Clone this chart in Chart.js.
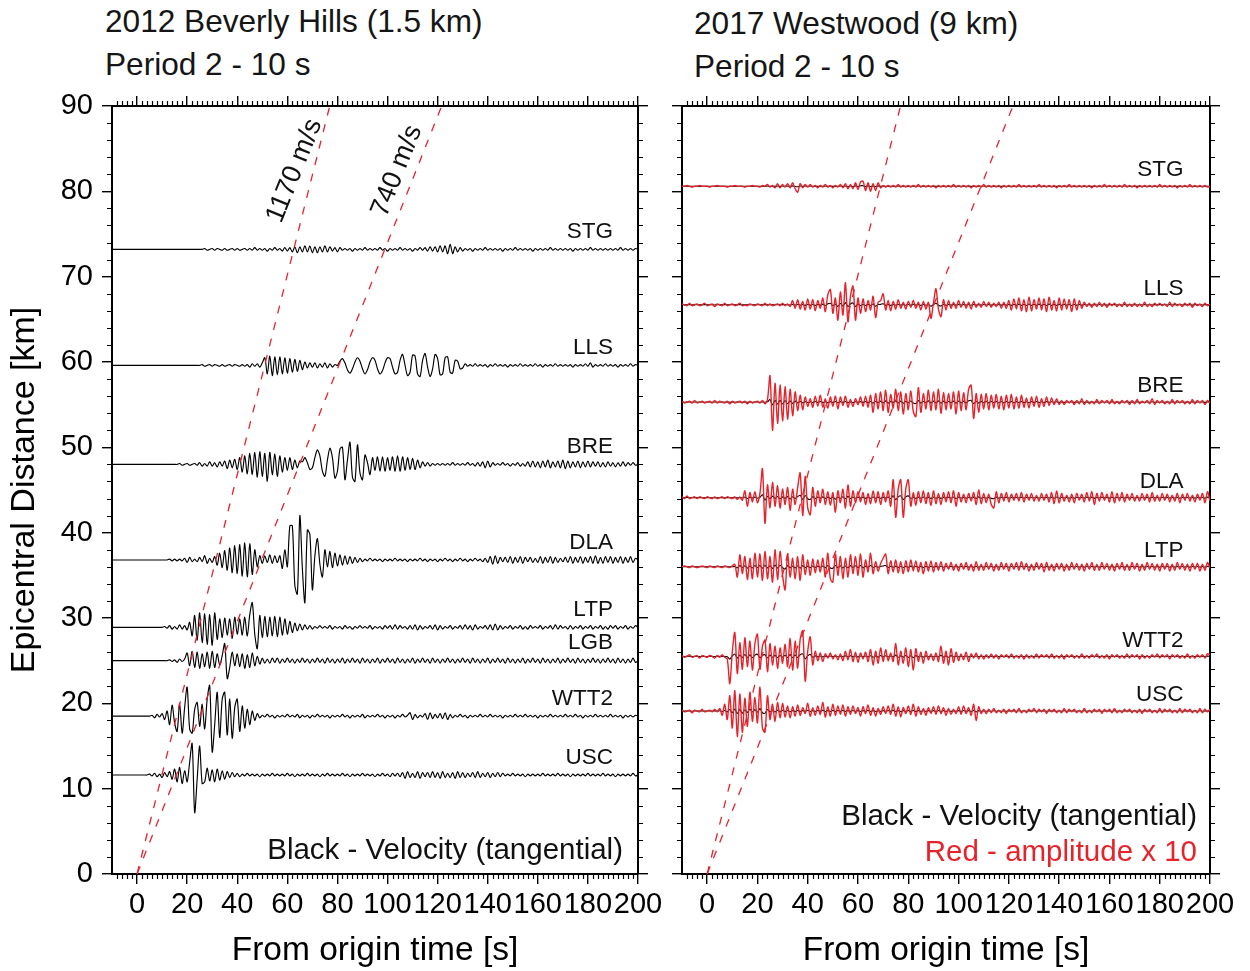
<!DOCTYPE html>
<html><head><meta charset="utf-8">
<script src="https://cdn.jsdelivr.net/npm/chart.js@4.4.1/dist/chart.umd.min.js"></script>
<style>
html,body{margin:0;padding:0;background:#fff;}
body{width:1250px;height:971px;position:relative;overflow:hidden;font-family:"Liberation Sans",Arial,sans-serif;}
canvas{position:absolute;top:0;}
#cL{left:0;}
#cR{left:660px;}
.ttl{position:absolute;font-size:31.6px;line-height:43px;color:#151515;white-space:nowrap;}
</style></head><body>
<div class="ttl" style="left:105px;top:0px">2012 Beverly Hills (1.5 km)<br>Period 2 - 10 s</div>
<div class="ttl" style="left:694px;top:2px">2017 Westwood (9 km)<br>Period 2 - 10 s</div>
<canvas id="cL" width="670" height="971"></canvas>
<canvas id="cR" width="590" height="971"></canvas>
<script>
const FONT = '"Liberation Sans", Arial, sans-serif';
// sampling of every trace: one value per second from -10 s
const timeStart = -10, timeStep = 1;
const timeTicks = [0,20,40,60,80,100,120,140,160,180,200];
const distTicks = [0,10,20,30,40,50,60,70,80,90];
const velocities = [1.17, 0.74];           // km/s
const velocityLabels = ['1170 m/s', '740 m/s'];
const ampUnitKm = 0.1;   // one data unit = 0.1 km of offset on the distance axis
const redFactor = 10;    // red = amplitude x 10

// ---------- 2012 Beverly Hills ----------
const leftStations  = ['STG','LLS','BRE','DLA','LTP','LGB','WTT2','USC'];
const leftDistances = [73.2, 59.6, 48.0, 36.8, 28.9, 25.0, 18.5, 11.6];
const L_STG = [0,0,0,0,0,0,0,0,0,0, 0,0,0,0,0,0,0,0,0,0, 0,0,0,0,0,0,0,0,0,0, 0,0,0,0,0,0,0,1,-1,0,
1,-1,1,0,-1,1,-1,0,1,-1, 1,-1,0,1,-1,1,-1,2,-1,1, -1,1,-2,1,-1,2,-1,1,-2,2, -2,2,-3,3,-4,3,-3,4,-3,4,
-4,3,-4,3,-3,4,-3,3,-2,2, -3,2,-1,1,-1,1,-2,1,-1,1, -1,2,-1,1,-1,1,-1,2,-1,1, -2,1,-1,1,-1,2,-1,1,-1,1,
-2,1,-1,2,-1,2,-2,3,-2,3, -3,4,-3,4,-5,6,-5,3,-3,2, -2,1,-1,1,-2,1,-1,1,-1,2, -1,1,-1,1,-1,1,-2,1,-1,1,
-1,2,-1,1,-1,1,-1,1,-2,1, -1,1,-1,1,-1,2,-1,1,-1,1, -1,1,-1,1,-2,1,-1,1,-1,1, -1,2,-1,1,-1,1,-1,1,-1,1,
-1,1,-1,2,-1,1,-1,1,-1,1,0];
const L_LLS = [0,0,0,0,0,0,0,0,0,0, 0,0,0,0,0,0,0,0,0,0, 0,0,0,0,0,0,0,0,0,0, 0,0,0,0,0,0,1,-1,0,1,
-1,1,0,-1,1,-1,0,1,-1,1, 0,-1,1,-1,1,-2,2,-1,2,-2, 3,9,-10,11,-12,10,-11,10,-10,9, -9,8,-8,7,-7,6,-5,4,-3,3,
-2,3,-3,2,-2,3,-3,2,-2,1, 0,5,8,3,-5,-9,-4,4,9,5, -4,-10,-5,4,9,6,-4,-10,-6,3, 9,8,-2,-10,-8,6,13,0,-12,-8,
12,11,-10,-13,6,14,-2,-13,-4,13, 8,-11,-10,9,10,-8,-9,6,5,-4, -3,2,-1,1,-1,2,-1,1,-1,1, -2,1,-1,2,-1,1,-1,1,-2,1,
-1,1,-1,2,-1,1,-1,1,-1,2, -1,1,-2,1,-1,1,-1,2,-1,1, -1,1,-1,1,-2,1,-1,1,-1,2, -1,3,-2,1,-1,1,-1,2,-1,1,
-1,1,-2,1,-1,1,-1,2,-1,1,0];
const L_BRE = [0,0,0,0,0,0,0,0,0,0, 0,0,0,0,0,0,0,0,0,0, 0,0,0,0,0,0,0,1,-1,0, 1,-1,0,1,-1,2,-2,1,-2,3,
-2,2,-3,3,-2,4,-5,5,-4,6, -6,8,-9,10,-11,13,-12,14,-15,15, -14,13,-20,14,-12,12,-14,10,-9,8, -7,8,-6,5,-4,4,3,8,2,-6,
-4,8,17,10,-8,-14,5,19,8,-16, -8,18,20,-18,5,26,-15,-20,23,-10, -18,11,2,-12,8,-7,9,-8,9,-8, 8,-7,9,-8,10,-8,9,-7,8,-6,
7,-6,5,-4,3,-2,2,-2,1,-1, 1,-1,1,-1,1,-1,2,-1,1,-1, 1,-1,2,-1,1,-2,2,-2,3,-4, 4,-3,2,-1,1,-1,2,-1,1,-2,
1,-1,2,-2,1,-2,3,-3,4,-3, 3,-4,4,-3,5,-4,3,-3,4,-4, 5,-5,4,-4,3,-3,4,-4,3,-3, 4,-3,3,-2,3,-3,2,-3,3,-2,
2,-3,2,-2,3,-2,2,-1,2,-1,0];
const L_DLA = [0,0,0,0,0,0,0,0,0,0, 0,0,0,0,0,0,0,0,0,0, 0,0,0,1,-1,1,-1,1,-1,2, -3,3,-2,1,-2,3,-2,5,-4,2,
-3,4,-6,8,-9,11,-12,14,-15,17, -16,18,-19,20,-20,19,-17,12,-8,5, -4,5,-3,6,-4,5,-3,5,-10,12, -8,40,40,-30,-40,52,-10,-50,35,30,
-35,5,25,-5,-20,12,-8,10,-9,8, -7,6,-6,5,-5,4,-4,3,-3,2, -2,1,-1,2,-1,1,-1,1,-2,1, -1,1,-1,2,-1,1,-1,1,-2,1,
-1,1,-1,2,-1,1,-2,1,-1,1, -2,1,-1,2,-1,1,-2,1,-1,2, -1,1,-2,1,-1,2,-1,1,-2,2, -3,4,-5,5,-4,3,-2,3,-3,4,
-4,3,-3,4,-4,3,-2,3,-3,2, -3,4,-4,3,-3,4,-4,3,-3,2, -2,3,-3,4,-4,3,-3,4,-4,3, -3,4,-4,5,-4,3,-4,4,-3,4,
-4,3,-3,4,-4,3,-3,4,-3,2,0];
const L_LTP = [0,0,0,0,0,0,0,0,0,0, 0,0,0,0,0,0,0,0,0,0, 0,1,-1,2,-2,1,-2,3,-2,2, -3,6,-10,14,-15,17,-18,16,-20,15,
-21,17,-14,10,-12,11,-9,10,-13,12, -8,10,-9,12,-10,15,29,-8,-25,14, -12,13,-11,12,-10,13,-11,12,-9,10, -8,7,-6,5,-4,4,-3,3,-2,2,
-2,1,-1,2,-1,1,-1,2,-2,1, -1,1,-2,2,-1,1,-2,1,-1,2, -1,1,-1,2,-2,1,-1,1,-2,2, -1,2,-2,3,-2,2,-1,1,-2,2,
-2,3,-3,2,-2,1,-1,2,-2,3, -3,2,-2,1,-1,2,-2,1,-1,2, -2,3,-2,2,-3,3,-2,1,-1,2, -2,3,-3,4,-3,2,-2,1,-1,2,
-2,1,-1,2,-2,1,-2,2,-1,1, -1,2,-2,1,-1,2,-2,3,-2,2, -1,1,-2,2,-2,1,-1,2,-2,1, -1,2,-2,1,-1,2,-2,1,-2,2,
-1,2,-2,1,-1,2,-2,1,-1,2,0];
const L_LGB = [0,0,0,0,0,0,0,0,0,0, 0,0,0,0,0,0,0,0,0,0, 0,0,0,1,-1,1,-2,2,-1,2, 9,-6,11,-8,10,-9,8,-7,10,-9,
11,-8,8,-5,6,20,-21,-8,10,-6, 8,-7,8,-9,7,-8,9,-6,5,-4, 3,-3,2,-3,3,-2,3,-3,2,-2, 3,-2,2,-3,2,-2,3,-2,2,-3,
2,-2,3,-2,2,-3,3,-2,2,-3, 2,-2,3,-3,2,-2,3,-2,2,-3, 3,-2,2,-3,2,-2,3,-3,2,-2, 3,-2,2,-3,3,-2,2,-3,2,-2,
3,-3,2,-2,3,-2,2,-3,3,-2, 2,-3,2,-2,3,-2,2,-3,2,-2, 3,-2,2,-3,3,-2,2,-3,2,-2, 3,-3,2,-2,3,-2,2,-3,3,-2,
2,-3,2,-2,3,-3,2,-2,3,-2, 2,-3,3,-2,2,-3,2,-2,3,-3, 2,-2,3,-2,2,-3,3,-2,2,-3, 2,-2,3,-2,2,-3,2,-2,3,-2,
2,-3,3,-2,2,-3,2,-2,3,-2,0];
const L_WTT2 = [0,0,0,0,0,0,0,0,0,0, 0,0,0,0,0,0,1,-2,2,-1, 3,-4,6,-10,13,-8,-18,15,-20,10, 34,-15,-20,8,16,-12,14,-15,20,36,
-42,-10,28,-25,20,28,-22,20,-26,10, 20,-18,12,-14,8,-10,6,-5,3,-2, 1,-1,2,-1,1,-2,1,-1,1,-1, 2,-1,1,-1,2,-2,1,-1,1,-2,
1,-1,2,-1,1,-1,1,-2,1,-1, 1,-1,2,-1,1,-2,1,-1,1,-1, 2,-2,1,-1,1,-1,2,-1,1,-2, 1,-1,1,-2,1,-1,2,-1,1,4,
-4,2,-2,1,-1,3,-4,4,-3,2, -2,3,-3,4,-4,2,-2,1,-1,2, -1,1,-2,1,-1,1,-1,2,-1,1, -1,2,-1,1,-1,1,-2,1,-1,1,
-1,2,-1,1,-1,2,-1,1,-1,1, -2,1,-1,1,-1,2,-1,1,-1,1, -1,2,-1,1,-1,2,-1,1,-2,1, -1,1,-1,2,-1,1,-1,1,-1,2,
-1,1,-1,1,-2,1,-1,1,-1,1,0];
const L_USC = [0,0,0,0,0,0,0,0,0,0, 0,0,0,0,0,1,-1,2,-2,1, -3,3,-2,4,-5,7,-8,9,-10,5, -8,15,37,-44,-5,34,-10,-8,8,-7,
6,-8,7,-6,5,-5,4,-3,3,-2, 2,-2,1,-1,2,-1,1,-1,1,-2, 1,-1,1,-1,2,-1,1,-1,1,-1, 2,-1,1,-2,1,-1,1,-1,2,-1,
1,-1,1,-2,1,-1,2,-1,1,-1, 1,-1,2,-1,1,-2,1,-1,1,-1, 2,-1,1,-1,1,-2,1,-1,2,-1, 1,-2,2,-1,2,-2,3,-4,4,-3,
2,-3,4,-4,3,-2,3,-3,4,-3, 3,-4,4,-3,2,-3,3,-4,4,-3, 3,-3,2,-2,3,-3,4,-3,2,-2, 3,-3,2,-2,3,-2,2,-1,1,-1,
2,-1,1,-1,1,-2,1,-1,1,-1, 1,-1,2,-1,1,-1,1,-1,2,-1, 1,-1,1,-2,1,-1,1,-1,1,-1, 2,-1,1,-1,1,-1,2,-1,1,-1,
1,-2,1,-1,1,-1,1,-1,2,-1,0];
const leftTraces = [L_STG, L_LLS, L_BRE, L_DLA, L_LTP, L_LGB, L_WTT2, L_USC];

// ---------- 2017 Westwood (values in red-trace units; black = value / 10) ----------
const rightStations  = ['STG','LLS','BRE','DLA','LTP','WTT2','USC'];
const rightDistances = [80.6, 66.7, 55.3, 44.1, 36.0, 25.5, 19.1];
const R_STG = [0,0,1,0,-1,0,0,1,0,0, 0,-1,0,0,1,0,0,0,-1,0, 0,1,0,0,0,-1,0,0,1,0, 0,-1,1,0,2,-1,1,-2,3,-2,
2,-1,3,-2,4,-3,-7,3,-2,2, -1,2,-1,1,-2,1,-1,2,-1,1, -2,1,-1,2,-2,3,-3,2,-3,4, -4,5,6,-5,4,-6,3,-5,4,-2,
1,-1,1,-1,1,-1,2,-1,1,-1, 1,-1,1,-1,2,-1,1,-1,1,-1, 1,-2,1,-1,1,-1,1,-1,2,-1, 1,-1,1,-1,1,-2,1,-1,1,-1,
2,-1,1,-1,1,-1,1,-2,1,-1, 1,-1,1,-1,2,-1,1,-1,1,-1, 1,-1,2,-1,1,-1,1,-1,1,-2, 1,-1,1,-1,2,-1,1,-1,1,-1,
1,-1,1,-2,1,-1,1,-1,2,-1, 1,-1,1,-1,1,-1,2,-1,1,-1, 1,-2,1,-1,1,-1,1,-1,1,-1, 2,-1,1,-1,1,-1,1,-2,1,-1,
1,-1,2,-1,1,-1,1,-1,1,-1,0];
const R_LLS = [1,0,-1,2,-1,0,1,-1,0,2, -1,0,1,-2,1,0,-1,2,-1,0, 1,-1,0,2,-1,0,-1,1,0,-1, 1,0,-1,2,-1,1,-1,0,1,-1,
2,-1,1,-2,5,-4,6,-5,4,-6, 7,-5,6,-7,5,-4,8,-8,12,18, -10,8,-18,15,-12,26,-20,10,22,-18, 8,-10,7,-8,5,-6,10,-15,3,5,
13,-6,5,-7,4,-5,6,-4,3,-5, 4,-3,5,-4,3,-6,4,-5,3,-16, 2,19,-5,-14,6,-6,5,-4,3,-4, 5,-3,4,-4,3,-5,4,-3,2,-3,
4,-2,3,-3,2,-2,3,-4,3,-4, 5,-6,7,-5,8,-7,6,-8,9,-7, 6,-5,8,-6,7,-8,9,-6,5,-7, 8,-6,7,-5,6,-8,7,-6,5,-4,
3,-2,2,-3,2,-2,3,-2,2,-3, 2,-1,2,-2,1,-2,3,-2,1,-2, 2,-2,1,-2,3,-2,1,-2,2,-1, 2,-1,1,-2,3,-2,2,-1,1,-2,
2,-1,2,-3,2,-1,1,-2,2,-1,1];
const R_BRE = [1,-1,0,1,-1,2,-1,0,1,-1, 0,1,-1,2,-1,1,0,-1,1,-2, 1,-1,0,1,-1,1,-2,1,-1,0, 1,-1,2,-2,3,31,-33,22,-25,20,
-22,18,-20,15,-16,12,-10,8,-9,6, -5,4,-6,7,-5,8,-6,4,-7,6, -5,7,-8,6,-4,7,-6,3,-5,4, -3,6,-5,7,-6,8,-12,10,-8,12,
-10,14,-12,9,-7,15,-10,12,-14,10, -9,13,-11,-17,17,-12,10,-8,14,-10, 12,-9,15,-13,11,-9,10,-8,12,-14, 13,-10,11,-9,15,20,-19,10,-12,9,
-8,10,-9,8,-7,9,-8,7,-9,8, -7,9,-8,6,-7,8,-6,5,-7,6, -5,7,-6,4,-5,6,-4,5,-3,4, -3,2,-3,2,-1,2,-3,2,-2,4,
-3,2,-2,1,-2,3,-2,2,-1,2, -2,3,-2,1,-2,2,-1,2,-3,2, -2,3,-2,1,-1,2,-2,4,-3,2, -1,2,-2,1,-2,3,-2,2,-1,2,
-2,1,-2,3,-2,2,-1,2,-3,2,-1];
const R_DLA = [1,-1,2,-1,0,1,-1,1,0,-1, 1,0,-1,1,-1,0,1,-1,1,0, -1,1,-2,1,-3,8,-10,6,-5,7, -6,5,34,-30,15,-12,18,-10,14,-12,
10,-8,12,-15,10,-8,12,29,-21,25, -12,-20,12,-10,8,-6,10,-8,7,-9, 6,-17,8,-6,10,-12,15,-10,8,-6, 7,-5,6,-8,5,-7,8,-6,7,-8,
6,-5,8,-10,21,-23,10,21,-23,10, 21,-10,6,-9,7,-6,8,-7,6,-9, 8,-7,5,-8,6,-5,7,-6,8,-10, 6,-5,4,-6,5,-4,6,-8,9,-7,
5,-6,4,-8,-12,7,-6,5,-4,6, -5,4,-3,5,-4,6,-5,4,-3,5, -4,3,-4,5,-3,4,-5,6,-7,8, -6,5,-4,3,-5,4,-6,5,-3,4,
-5,6,-4,7,-8,5,-4,6,-3,4, -5,7,-6,5,-4,6,-5,4,-3,5, -4,3,-4,5,-3,4,-5,6,-4,3, -4,5,-3,4,-5,3,-4,5,-6,4,
-3,5,-4,3,-5,4,-3,5,-6,7,-4];
const R_LTP = [0,1,0,-1,1,0,-1,0,1,0, -1,1,0,-1,1,0,-1,1,0,-1, 1,3,-12,14,-8,12,-15,10,-14,16, -12,15,-16,18,-14,12,-18,20,-15,18,
-10,-27,15,-12,10,-14,12,-16,14,-9, 8,-10,9,-7,8,-6,10,-12,16,-14, -18,15,-10,12,-14,10,-12,14,-8,12, -10,15,-12,8,-6,16,-8,6,-5,4,
10,15,-8,7,-6,8,-7,6,-8,7, -6,8,-5,7,-6,5,-8,6,-5,7, -6,5,-4,6,-5,4,-3,5,-4,3, -5,4,-3,5,-4,3,-5,6,-4,3,
-4,5,-3,4,-5,3,-4,5,-3,4, -5,4,-3,5,-4,6,-3,4,-5,3, -4,5,-3,4,-6,5,-4,3,-5,4, -3,4,-5,3,-4,5,-3,4,-4,3,
-5,4,-3,5,-4,3,-4,5,-3,4, -4,3,-5,4,-3,5,-4,3,-4,5, -3,4,-5,3,-4,5,-3,4,-4,3, -5,4,-3,4,-5,3,-4,5,-3,4,
-4,3,-5,4,-3,4,-5,3,-4,5,-2];
const R_WTT2 = [1,-1,0,2,-1,0,1,-2,1,0, -1,1,0,-2,1,-1,2,-1,-3,-32, 5,28,-20,16,-15,22,-12,18,-16,15, 26,-15,12,19,-18,15,-10,12,-14,10,
-8,14,-12,21,-16,18,-14,20,30,-29, 6,23,-10,6,-5,4,-6,3,-2,4, -3,2,-4,3,-5,6,-4,8,-6,5, -7,4,-3,5,-6,8,-10,6,-8,10,
-6,8,-5,4,-6,15,-10,6,-8,10, -12,8,-16,9,-6,5,-8,6,-4,3, -5,4,-6,12,-8,6,-10,9,-7,5, -5,3,-4,5,-6,3,-2,4,-3,2,
-3,2,-2,3,-2,2,-3,2,-1,2, -2,3,-2,1,-2,2,-3,2,-2,1, -2,3,-2,2,-1,2,-2,3,-2,1, -2,2,-3,2,-1,2,-2,1,-2,3,
-2,1,-2,2,-1,3,-2,1,-2,2, -3,2,-1,2,-2,1,-2,3,-2,2, -1,2,-3,2,-2,1,-2,2,-1,3, -2,2,-1,2,-3,2,-1,2,-2,1,
-2,3,-2,1,-2,2,-1,2,-2,3,2];
const R_USC = [1,-1,0,1,-2,1,0,-1,2,-1, 0,1,-1,2,-1,3,-5,8,-10,18, -20,24,-30,20,-25,15,-18,22,-12,16, -14,28,-20,-25,18,-10,8,-12,10,-8,
9,-7,6,-8,5,-6,7,-5,4,-3, 9,-6,4,-5,6,-4,10,-7,5,-6, 8,-5,6,-4,7,-6,5,-4,6,-3, 4,-6,5,-3,7,-5,4,-6,3,-4,
5,-3,6,-4,8,-6,5,-7,4,-3, 6,-4,8,-6,5,-4,3,-5,4,-3, 5,-4,6,-3,4,-5,3,-4,2,-3, 5,-4,6,-3,4,-5,8,-11,5,-3,
2,-3,2,-2,3,-2,1,-2,2,-3, 2,-1,2,-2,3,-2,1,-2,2,-1, 3,-2,2,-1,2,-3,2,-1,2,-2, 1,-2,3,-2,2,-1,2,-2,1,-2,
3,-2,1,-2,2,-1,2,-3,2,-1, 2,-2,3,-2,1,-2,2,-1,2,-2, 1,-2,2,-3,2,-1,2,-2,1,-2, 3,-2,2,-1,2,-2,1,-2,3,-2,
2,-1,2,-2,1,-2,3,-2,2,-1,2];
const rightTraces = [R_STG, R_LLS, R_BRE, R_DLA, R_LTP, R_WTT2, R_USC];

const RED = '#e5232b';

function traceData(arr, dist, unitKm) {
  return arr.map((v, i) => ({x: timeStart + i * timeStep, y: dist + v * unitKm}));
}
function velocityLine(v) {
  const dMax = distTicks[distTicks.length - 1];
  return [{x: 0, y: 0}, {x: dMax / v, y: dMax}];
}
function setTicks(list) { return s => { s.ticks = list.map(v => ({value: v})); }; }

function makeScales(showY, yW, y2W) {
  const grid = {drawOnChartArea: false, drawTicks: true, tickLength: 10, color: '#000', tickColor: '#000', tickWidth: 1.4, lineWidth: 1.4};
  const border = {display: true, color: '#000', width: 2};
  const tickFont = {family: FONT, size: 29};
  return {
    x: {type: 'linear', position: 'bottom', min: -10, max: 200, grid, border,
        afterBuildTicks: setTicks(timeTicks),
        ticks: {font: tickFont, color: '#000', padding: 4, maxRotation: 0, autoSkip: false},
        title: {display: true, text: 'From origin time [s]', color: '#000', font: {family: FONT, size: 33.5, lineHeight: 1.2}, padding: {top: 0, bottom: 0}},
        afterFit: s => { s.height = 97; }},
    x2: {type: 'linear', position: 'top', min: -10, max: 200, grid, border,
        afterBuildTicks: setTicks(timeTicks), ticks: {display: false},
        afterFit: s => { s.height = 10; }},
    y: {type: 'linear', position: 'left', min: 0, max: 90, grid, border,
        afterBuildTicks: setTicks(distTicks),
        ticks: {display: showY, font: tickFont, color: '#000', padding: 9},
        title: {display: showY, text: 'Epicentral Distance [km]', color: '#000', font: {family: FONT, size: 34, lineHeight: 1.2}, padding: {top: 4, bottom: 0}},
        afterFit: s => { s.width = yW; }},
    y2: {type: 'linear', position: 'right', min: 0, max: 90, grid, border,
        afterBuildTicks: setTicks(distTicks), ticks: {display: false},
        afterFit: s => { s.width = y2W; }}
  };
}

const decor = {
  id: 'decor',
  afterDraw(chart, args, o) {
    const {ctx, chartArea: a, scales: {x, y}} = chart;
    ctx.save();
    // minor ticks
    ctx.strokeStyle = '#000'; ctx.lineWidth = 1.2; ctx.beginPath();
    for (let t = -8; t < 200; t += 2) {
      if (t % 20 === 0) continue;
      const px = Math.round(x.getPixelForValue(t)) + 0.5;
      ctx.moveTo(px, a.bottom); ctx.lineTo(px, a.bottom + 5);
      ctx.moveTo(px, a.top); ctx.lineTo(px, a.top - 5);
    }
    for (let d = 2; d < 90; d += 2) {
      if (d % 10 === 0) continue;
      const py = Math.round(y.getPixelForValue(d)) + 0.5;
      ctx.moveTo(a.left, py); ctx.lineTo(a.left - 5, py);
      ctx.moveTo(a.right, py); ctx.lineTo(a.right + 5, py);
    }
    ctx.stroke();
    // station labels
    ctx.fillStyle = '#111'; ctx.font = '22.5px ' + FONT; ctx.textAlign = 'right'; ctx.textBaseline = 'middle';
    o.stations.forEach((s, i) => ctx.fillText(s, x.getPixelForValue(o.labelT), y.getPixelForValue(o.distances[i]) - o.labelDy));
    // velocity labels
    if (o.velLabels) {
      ctx.font = '27px ' + FONT; ctx.textAlign = 'center'; ctx.textBaseline = 'middle';
      velocities.forEach((v, i) => {
        const d = 82.4;
        const px = x.getPixelForValue(d / v) - 19, py = y.getPixelForValue(d);
        ctx.save(); ctx.translate(px, py); ctx.rotate(-68 * Math.PI / 180); ctx.fillText(velocityLabels[i], 0, 0); ctx.restore();
      });
    }
    // legend text
    ctx.font = '29.5px ' + FONT; ctx.textAlign = 'right'; ctx.textBaseline = 'middle';
    o.legend.forEach(l => { ctx.fillStyle = l.color; ctx.fillText(l.text, a.right - l.dx, a.bottom - l.dy); });
    ctx.restore();
  }
};

function baseOptions(showY, yW, y2W, decorOpts) {
  return {
    responsive: false, animation: false, events: [],
    layout: {padding: {top: 96, left: 0, right: 0, bottom: 0}, autoPadding: false},
    elements: {point: {radius: 0}, line: {tension: 0.3, capBezierPoints: true}},
    scales: makeScales(showY, yW, y2W),
    plugins: {legend: {display: false}, tooltip: {enabled: false}, title: {display: false}, decor: decorOpts}
  };
}

// Left chart
const leftDatasets = [];
velocities.forEach(v => leftDatasets.push({data: velocityLine(v), borderColor: RED, borderWidth: 1.3, borderDash: [8, 9], tension: 0}));
leftTraces.forEach((arr, i) => leftDatasets.push({data: traceData(arr, leftDistances[i], ampUnitKm), borderColor: '#000', borderWidth: 1.15}));
new Chart(document.getElementById('cL'), {
  type: 'line', data: {datasets: leftDatasets},
  options: baseOptions(true, 112, 32, {
    stations: leftStations, distances: leftDistances, labelT: 190, labelDy: 17.5, velLabels: true,
    legend: [{text: 'Black - Velocity (tangential)', color: '#111', dx: 15, dy: 23}]
  }),
  plugins: [decor]
});

// Right chart
const rightDatasets = [];
velocities.forEach(v => rightDatasets.push({data: velocityLine(v), borderColor: RED, borderWidth: 1.3, borderDash: [8, 9], tension: 0}));
rightTraces.forEach((arr, i) => rightDatasets.push({data: traceData(arr, rightDistances[i], ampUnitKm), borderColor: RED, borderWidth: 1.4}));
rightTraces.forEach((arr, i) => rightDatasets.push({data: traceData(arr, rightDistances[i], ampUnitKm / redFactor), borderColor: '#000', borderWidth: 1.1}));
new Chart(document.getElementById('cR'), {
  type: 'line', data: {datasets: rightDatasets},
  options: baseOptions(false, 22, 40, {
    stations: rightStations, distances: rightDistances, labelT: 189.5, labelDy: 16, velLabels: false,
    legend: [{text: 'Black - Velocity (tangential)', color: '#111', dx: 13, dy: 57},
             {text: 'Red - amplitude x 10', color: RED, dx: 13, dy: 21}]
  }),
  plugins: [decor]
});
</script>
</body></html>
